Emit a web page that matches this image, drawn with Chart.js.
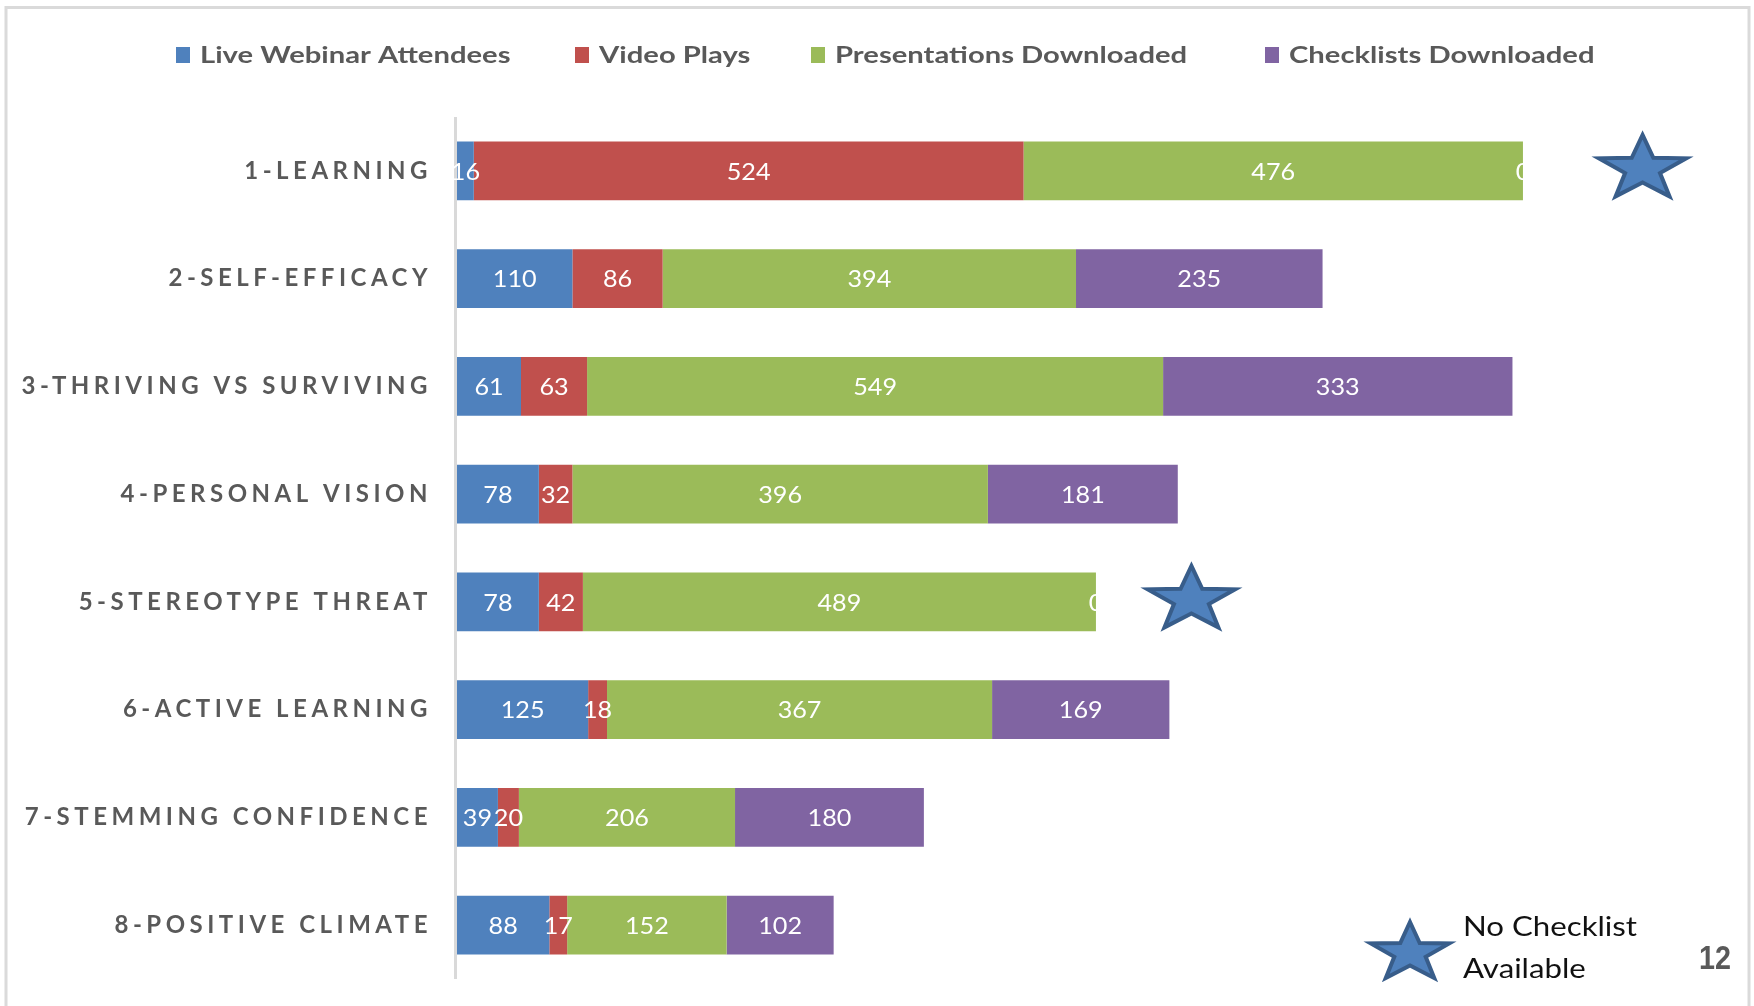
<!DOCTYPE html>
<html>
<head>
<meta charset="utf-8">
<title>Module engagement</title>
<script src="https://cdn.jsdelivr.net/npm/chart.js@4.4.1/dist/chart.umd.min.js"></script>
<style>
  html, body { margin: 0; padding: 0; background: #fff; }
  canvas { display: block; }
</style>
</head>
<body>
<canvas id="modules" width="1754" height="1006"></canvas>
<script>
// modules and counts per engagement type
var categories = ['1-LEARNING', '2-SELF-EFFICACY', '3-THRIVING VS SURVIVING', '4-PERSONAL VISION',
    '5-STEREOTYPE THREAT', '6-ACTIVE LEARNING', '7-STEMMING CONFIDENCE', '8-POSITIVE CLIMATE'];
var webinarAttendees = [16, 110, 61, 78, 78, 125, 39, 88];
var videoPlays = [524, 86, 63, 32, 42, 18, 20, 17];
var presentationsDownloaded = [476, 394, 549, 396, 489, 367, 206, 152];
var checklistsDownloaded = [0, 235, 333, 181, 0, 169, 180, 102];
// where the "no checklist" star sits on modules without a checklist (axis units)
var starAt = [1130, 700];

var GRAY = '#595959';
var STAR_FILL = '#4F81BD';
var STAR_EDGE = '#385D8A';

// text drawn a little wider than the font, like the slide
function putText(ctx, str, x, y, align, sx) {
    ctx.save();
    ctx.translate(x, y);
    ctx.scale(sx, 1);
    ctx.textAlign = align;
    ctx.fillText(str, 0, 0);
    ctx.restore();
}

function drawStar(ctx, cx, cy, r, sx) {
    var inner = r * 0.4;
    ctx.save();
    ctx.beginPath();
    for (var i = 0; i < 10; i++) {
        var rad = i % 2 === 0 ? r : inner;
        var a = -Math.PI / 2 + i * Math.PI / 5;
        var px = cx + Math.cos(a) * rad * sx;
        var py = cy + Math.sin(a) * rad;
        if (i === 0) ctx.moveTo(px, py); else ctx.lineTo(px, py);
    }
    ctx.closePath();
    ctx.fillStyle = STAR_FILL;
    ctx.fill();
    ctx.lineWidth = 4;
    ctx.lineJoin = 'miter';
    ctx.strokeStyle = STAR_EDGE;
    ctx.stroke();
    ctx.restore();
}

var slideDecor = {
    id: 'slideDecor',
    beforeDraw: function (chart) {
        var ctx = chart.ctx;
        ctx.save();
        ctx.strokeStyle = '#dadada';
        ctx.lineWidth = 3;
        ctx.strokeRect(6, 7.5, 1743, 1100);
        ctx.restore();
    },
    beforeDatasetsDraw: function (chart) {
        var ctx = chart.ctx;
        var area = chart.chartArea;
        var x0 = chart.scales.x.getPixelForValue(0);

        // category axis line
        ctx.save();
        ctx.strokeStyle = '#d9d9d9';
        ctx.lineWidth = 3;
        ctx.beginPath();
        ctx.moveTo(x0 - 1.5, area.top);
        ctx.lineTo(x0 - 1.5, area.bottom);
        ctx.stroke();
        ctx.restore();

        // module names, letter-spaced
        ctx.save();
        ctx.font = 'bold 24px Lato';
        ctx.fillStyle = GRAY;
        ctx.textBaseline = 'middle';
        ctx.letterSpacing = '4.5px';
        categories.forEach(function (name, i) {
            var y = chart.scales.y.getPixelForValue(i);
            putText(ctx, name, x0 - 25, y, 'right', 1);
        });
        ctx.restore();
    },
    afterDatasetsDraw: function (chart) {
        var ctx = chart.ctx;
        ctx.save();
        ctx.font = '24px Lato';
        ctx.fillStyle = '#ffffff';
        ctx.textBaseline = 'middle';
        chart.data.datasets.forEach(function (ds, di) {
            chart.getDatasetMeta(di).data.forEach(function (bar, i) {
                putText(ctx, String(ds.data[i]), (bar.x + bar.base) / 2, bar.y + 1, 'center', 1.05);
            });
        });
        ctx.restore();

        // stars on modules with no checklist
        var k = 0;
        checklistsDownloaded.forEach(function (v, i) {
            if (v !== 0) return;
            var sx = chart.scales.x.getPixelForValue(starAt[k++]);
            var sy = chart.scales.y.getPixelForValue(i);
            drawStar(ctx, sx, sy - 2, 34, 1.35);
        });
    },
    afterDraw: function (chart) {
        var ctx = chart.ctx;
        // legend row
        var boxX = [176, 575, 811, 1265];
        ctx.save();
        ctx.font = 'bold 23px Lato';
        ctx.textBaseline = 'middle';
        chart.data.datasets.forEach(function (ds, i) {
            ctx.fillStyle = ds.backgroundColor;
            ctx.fillRect(boxX[i], 47, 14, 16);
            ctx.fillStyle = GRAY;
            putText(ctx, ds.label, boxX[i] + 24, 56, 'left', 1.27);
        });
        ctx.restore();

        // star key
        drawStar(ctx, 1410, 953, 31, 1.33);
        ctx.save();
        ctx.font = '26px Lato';
        ctx.fillStyle = '#111111';
        ctx.textBaseline = 'alphabetic';
        putText(ctx, 'No Checklist', 1463, 936, 'left', 1.2);
        putText(ctx, 'Available', 1463, 978, 'left', 1.2);

        // slide number
        ctx.font = 'bold 33px "Liberation Sans"';
        ctx.fillStyle = GRAY;
        putText(ctx, '12', 1731, 969, 'right', 0.87);
        ctx.restore();
    }
};

new Chart(document.getElementById('modules'), {
    type: 'bar',
    data: {
        labels: categories,
        datasets: [
            { label: 'Live Webinar Attendees', data: webinarAttendees, backgroundColor: '#4F81BD' },
            { label: 'Video Plays', data: videoPlays, backgroundColor: '#C0504D' },
            { label: 'Presentations Downloaded', data: presentationsDownloaded, backgroundColor: '#9BBB59' },
            { label: 'Checklists Downloaded', data: checklistsDownloaded, backgroundColor: '#8064A2' }
        ]
    },
    options: {
        indexAxis: 'y',
        responsive: false,
        animation: false,
        devicePixelRatio: 1,
        layout: { padding: { left: 457, right: 38, top: 117, bottom: 27 } },
        datasets: {
            bar: { barPercentage: 0.545, categoryPercentage: 1, borderWidth: 0 }
        },
        scales: {
            x: { stacked: true, min: 0, max: 1200, display: false },
            y: { stacked: true, display: false }
        },
        plugins: {
            legend: { display: false },
            tooltip: { enabled: false }
        }
    },
    plugins: [slideDecor]
});
</script>
</body>
</html>
